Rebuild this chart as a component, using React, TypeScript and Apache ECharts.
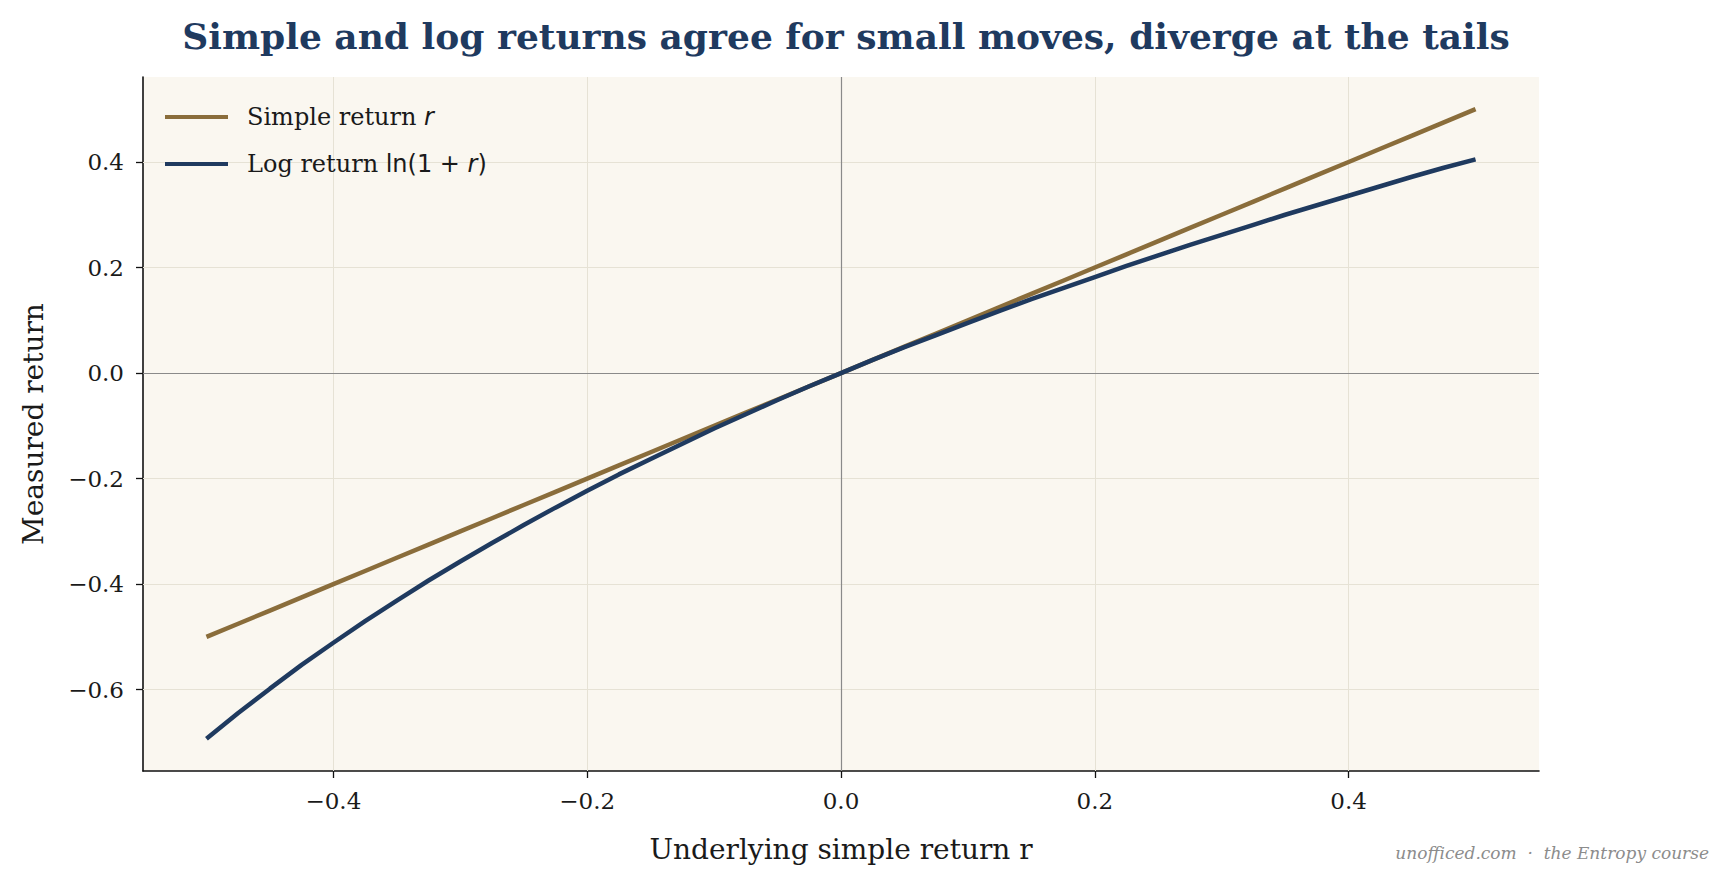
import React, { useEffect, useRef } from "react";
import * as echarts from "echarts";

const rValues = [
  -0.5, -0.475, -0.45, -0.425, -0.4, -0.375, -0.35, -0.325, -0.3, -0.275, -0.25, -0.225, -0.2, -0.175, -0.15, -0.125, -0.1, -0.075, -0.05, -0.025,
  0, 0.025, 0.05, 0.075, 0.1, 0.125, 0.15, 0.175, 0.2, 0.225, 0.25, 0.275, 0.3, 0.325, 0.35, 0.375, 0.4, 0.425, 0.45, 0.475, 0.5,
];
const simpleReturns = [
  -0.5, -0.475, -0.45, -0.425, -0.4, -0.375, -0.35, -0.325, -0.3, -0.275, -0.25, -0.225, -0.2, -0.175, -0.15, -0.125, -0.1, -0.075, -0.05, -0.025,
  0, 0.025, 0.05, 0.075, 0.1, 0.125, 0.15, 0.175, 0.2, 0.225, 0.25, 0.275, 0.3, 0.325, 0.35, 0.375, 0.4, 0.425, 0.45, 0.475, 0.5,
];
const logReturns = [
  -0.693, -0.644, -0.598, -0.553, -0.511, -0.47, -0.431, -0.393, -0.357, -0.322, -0.288, -0.255, -0.223, -0.192, -0.163, -0.134, -0.105, -0.078, -0.051, -0.025,
  0, 0.025, 0.049, 0.072, 0.095, 0.118, 0.14, 0.161, 0.182, 0.203, 0.223, 0.243, 0.262, 0.281, 0.3, 0.318, 0.336, 0.354, 0.372, 0.389, 0.405,
];
const xTicks = [-0.4, -0.2, 0, 0.2, 0.4];
const yTicks = [-0.6, -0.4, -0.2, 0, 0.2, 0.4];

const SERIF = "'DejaVu Serif', 'Liberation Serif', serif";
const BROWN = "#8a6d3b";
const NAVY = "#1f3a5f";

const fmt = (v: number) => {
  const s = Math.abs(v).toFixed(1);
  return v < -1e-9 ? "\u2212" + s : s;
};

export default function App() {
  const ref = useRef<HTMLDivElement>(null);
  useEffect(() => {
    if (!ref.current) return;
    const chart = echarts.init(ref.current, null, { renderer: "svg" });
    const simpleData = rValues.map((r, i) => [r, simpleReturns[i]]);
    const logData = rValues.map((r, i) => [r, logReturns[i]]);
    chart.setOption({
      animation: false,
      backgroundColor: "#ffffff",
      title: {
        text: "Simple and log returns agree for small moves, diverge at the tails",
        left: 841,
        textAlign: "center",
        top: 13,
        textStyle: { fontFamily: SERIF, fontWeight: "bold", fontSize: 36, color: NAVY },
      },
      graphic: [
        {
          type: "text",
          right: 18,
          top: 844,
          style: {
            text: "unofficed.com  \u00b7  the Entropy course",
            fontFamily: SERIF,
            fontStyle: "italic",
            fontSize: 17,
            fill: "#8c8c8c",
          },
        },
      ],
      legend: {
        orient: "vertical",
        left: 165,
        top: 103,
        padding: 0,
        itemWidth: 63,
        itemHeight: 4,
        itemGap: 19,
        icon: "rect",
        z: 10,
        data: ["simple", "log"],
        formatter: (name: string) =>
          name === "simple"
            ? "Simple return {i|r}"
            : "Log return {m|ln(1 + }{i|r}{m|)}",
        textStyle: {
          fontFamily: SERIF,
          fontSize: 24,
          lineHeight: 28,
          color: "#1a1a1a",
          padding: [0, 0, 0, 14],
          rich: {
            i: { fontFamily: "'DejaVu Sans', sans-serif", fontStyle: "italic", fontSize: 24, lineHeight: 28, color: "#1a1a1a" },
            m: { fontFamily: "'DejaVu Sans', sans-serif", fontSize: 24, lineHeight: 28, color: "#1a1a1a" },
          },
        },
      },
      grid: {
        left: 143,
        right: 188,
        top: 77,
        bottom: 113,
        show: true,
        backgroundColor: "#faf7f0",
        borderWidth: 0,
      },
      xAxis: {
        type: "value",
        min: -0.55,
        max: 0.55,
        name: "Underlying simple return r",
        nameLocation: "middle",
        nameGap: 64,
        nameTextStyle: { fontFamily: SERIF, fontSize: 28, color: "#1a1a1a" },
        axisLine: { show: true, onZero: false, lineStyle: { color: "#111", width: 1.6 } },
        axisTick: { show: true, length: 7, customValues: xTicks, lineStyle: { color: "#111", width: 1.3 } },
        axisLabel: {
          customValues: xTicks,
          formatter: (v: number) => fmt(v),
          fontFamily: SERIF,
          fontSize: 23,
          color: "#1a1a1a",
          margin: 18,
        },
        splitLine: { show: false },
      },
      yAxis: {
        type: "value",
        min: -0.754,
        max: 0.561,
        name: "Measured return",
        nameLocation: "middle",
        nameRotate: 90,
        nameGap: 96,
        nameTextStyle: { fontFamily: SERIF, fontSize: 28, color: "#1a1a1a" },
        axisLine: { show: true, onZero: false, lineStyle: { color: "#111", width: 1.6 } },
        axisTick: { show: true, length: 7, customValues: yTicks, lineStyle: { color: "#111", width: 1.3 } },
        axisLabel: {
          customValues: yTicks,
          formatter: (v: number) => fmt(v),
          fontFamily: SERIF,
          fontSize: 23,
          color: "#1a1a1a",
          margin: 19,
        },
        splitLine: { show: false },
      },
      series: [
        {
          name: "gridlines",
          type: "line",
          data: [],
          z: 1,
          silent: true,
          markLine: {
            silent: true,
            z: 1,
            symbol: "none",
            label: { show: false },
            lineStyle: { color: "#e6e2d5", width: 1, type: "solid" },
            data: [
              ...xTicks.filter((v) => v !== 0).map((v) => ({ xAxis: v })),
              ...yTicks.filter((v) => v !== 0).map((v) => ({ yAxis: v })),
            ],
          },
        },
        {
          name: "zerolines",
          type: "line",
          data: [],
          z: 1,
          silent: true,
          markLine: {
            silent: true,
            z: 1,
            symbol: "none",
            label: { show: false },
            lineStyle: { color: "#8a8a8a", width: 1.2, type: "solid" },
            data: [{ xAxis: 0 }, { yAxis: 0 }],
          },
        },
        {
          name: "simple",
          type: "line",
          data: simpleData,
          showSymbol: false,
          z: 3,
          color: BROWN,
          lineStyle: { color: BROWN, width: 4.5 },
        },
        {
          name: "log",
          type: "line",
          data: logData,
          showSymbol: false,
          z: 4,
          color: NAVY,
          lineStyle: { color: NAVY, width: 4.5 },
        },
      ],
    });
    return () => chart.dispose();
  }, []);
  return (
    <div
      ref={ref}
      style={{ position: "fixed", left: 0, top: 0, width: 1727, height: 884 }}
    />
  );
}
